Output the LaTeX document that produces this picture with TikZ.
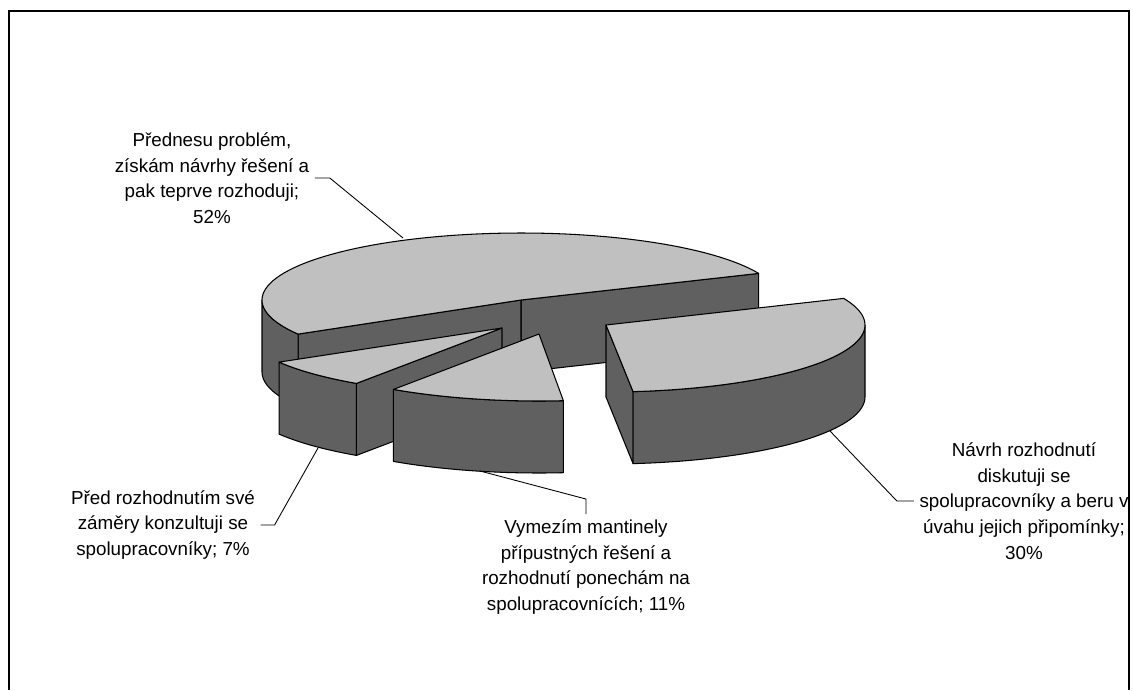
\documentclass[tikz,border=0pt]{standalone}
\usepackage{fontspec}
\setmainfont{Liberation Sans}
\usepackage{xcolor}
\usepackage{tikz}
\usetikzlibrary{calc}
\definecolor{pietop}{RGB}{192,192,192}
\definecolor{pieside}{RGB}{96,96,96}

\begin{document}
\begin{tikzpicture}[x=0.02cm,y=-0.02cm,
  topface/.style={fill=pietop,draw=black,line width=0.6pt,line join=round},
  sideface/.style={fill=pieside,draw=black,line width=0.6pt,line join=round},
  lbl/.style={align=center,inner sep=3pt,font=\fontsize{10.7}{14.6}\selectfont},
  lead/.style={draw=black,line width=0.5pt}]

\useasboundingbox (0,0) rectangle (1133,690);
\draw[line width=0.9pt] (9,690) -- (9,11) -- (1129,11) -- (1129,690);

% slice 52%
\coordinate (a52) at (521,300);
\coordinate (b52) at ({521+259*cos(23.4)},{300-67*sin(23.4)});
\coordinate (c52) at ({521+259*cos(210.6)},{300-67*sin(210.6)});
\filldraw[sideface] (a52) -- (b52) -- ++(0,72) -- ($(a52)+(0,72)$) -- cycle;
\filldraw[sideface] (a52) -- (c52) -- ++(0,72) -- ($(a52)+(0,72)$) -- cycle;
\filldraw[sideface] plot[domain=180:210.6,samples=15] ({521+259*cos(\x)},{300-67*sin(\x)})
  -- plot[domain=210.6:180,samples=15] ({521+259*cos(\x)},{372-67*sin(\x)}) -- cycle;
\filldraw[topface] (a52) -- plot[domain=23.4:210.6,samples=80] ({521+259*cos(\x)},{300-67*sin(\x)}) -- cycle;

% slice 7%
\coordinate (a7) at (502,328);
\coordinate (c7) at ({502+259*cos(235.8)},{328-67*sin(235.8)});
\filldraw[sideface] (a7) -- (c7) -- ++(0,72) -- ($(a7)+(0,72)$) -- cycle;
\filldraw[sideface] plot[domain=210.6:235.8,samples=15] ({502+259*cos(\x)},{328-67*sin(\x)})
  -- plot[domain=235.8:210.6,samples=15] ({502+259*cos(\x)},{400-67*sin(\x)}) -- cycle;
\filldraw[topface] (a7) -- plot[domain=210.6:235.8,samples=15] ({502+259*cos(\x)},{328-67*sin(\x)}) -- cycle;

% slice 11%
\coordinate (a11) at (539,334);
\filldraw[sideface] plot[domain=235.8:275.4,samples=20] ({539+259*cos(\x)},{334-67*sin(\x)})
  -- plot[domain=275.4:235.8,samples=20] ({539+259*cos(\x)},{406-67*sin(\x)}) -- cycle;
\filldraw[topface] (a11) -- plot[domain=235.8:275.4,samples=20] ({539+259*cos(\x)},{334-67*sin(\x)}) -- cycle;

% slice 30%
\coordinate (a30) at (606,325);
\coordinate (b30) at ({606+259*cos(276)},{325-67*sin(276)});
\filldraw[sideface] (a30) -- (b30) -- ++(0,72) -- ($(a30)+(0,72)$) -- cycle;
\filldraw[sideface] plot[domain=276:360,samples=40] ({606+259*cos(\x)},{325-67*sin(\x)})
  -- plot[domain=360:276,samples=40] ({606+259*cos(\x)},{397-67*sin(\x)}) -- cycle;
\filldraw[topface] (a30) -- plot[domain=276:383.4,samples=50] ({606+259*cos(\x)},{325-67*sin(\x)}) -- cycle;

% labels
\node[lbl] (lab52) at (212,178) {Přednesu problém,\\získám návrhy řešení a\\pak teprve rozhoduji;\\52\%};
\node[lbl] (lab7) at (163,525) {Před rozhodnutím své\\záměry konzultuji se\\spolupracovníky; 7\%};
\node[lbl] (lab11) at (586,567) {Vymezím mantinely\\přípustných řešení a\\rozhodnutí ponechám na\\spolupracovnících; 11\%};
\node[lbl] (lab30) at (1024,501) {Návrh rozhodnutí\\diskutuji se\\spolupracovníky a beru v\\úvahu jejich připomínky;\\30\%};

% leaders
\coordinate (p52) at (403,238);
\coordinate (p7) at (318,448);
\coordinate (p11) at (480,471);
\coordinate (p30) at (830,431);
\draw[lead] (p52) -- ($(lab52.east)+(15,0)$) -- (lab52.east);
\draw[lead] (p7) -- ($(lab7.east)+(14,0)$) -- (lab7.east);
\draw[lead] (p11) -- ($(lab11.north)+(0,-15)$) -- (lab11.north);
\draw[lead] (p30) -- ($(lab30.west)+(-17,0)$) -- (lab30.west);

\end{tikzpicture}
\end{document}
